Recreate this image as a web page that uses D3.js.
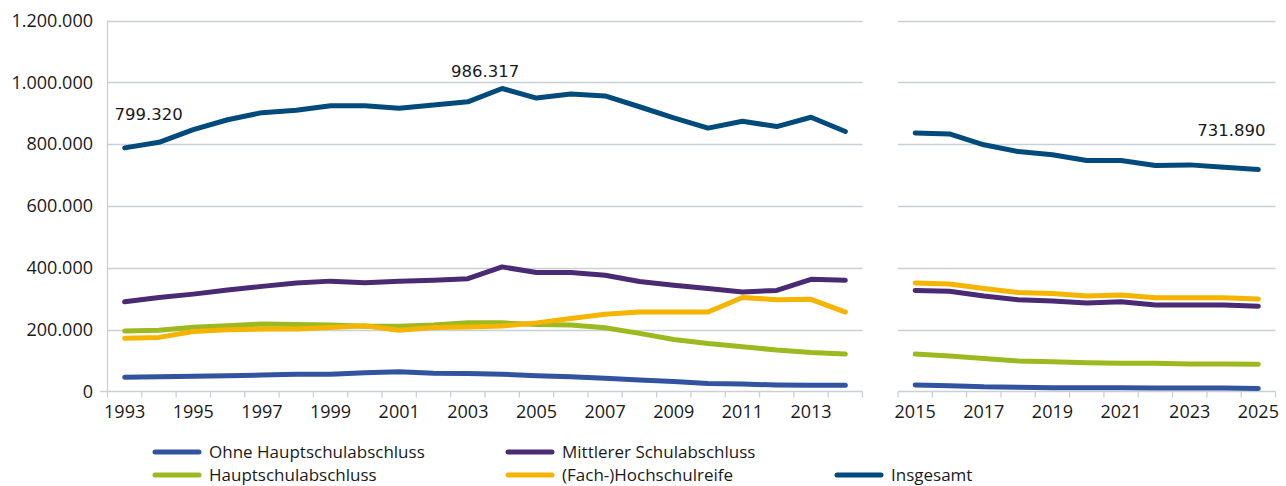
<!DOCTYPE html>
<html>
<head>
<meta charset="utf-8">
<script src="https://cdn.jsdelivr.net/npm/d3@7"></script>
<style>
  body { margin: 0; background: #fff; }
  svg { display: block; }
</style>
</head>
<body>
<svg id="chart" width="1286" height="486"></svg>
<script>
// years shown on the chart (gap between 2014 and 2015 splits the two panels)
const years = [1993, 1994, 1995, 1996, 1997, 1998, 1999, 2000, 2001, 2002, 2003,
    2004, 2005, 2006, 2007, 2008, 2009, 2010, 2011, 2012, 2013, 2014,
    2015, 2016, 2017, 2018, 2019, 2020, 2021, 2022, 2023, 2024, 2025];

// values
const ohneHS = [46000, 48000, 49000, 51000, 53000, 56000, 56000, 61000, 64000, 59000, 58000,
    56000, 51000, 48000, 43000, 37000, 32000, 26000, 24000, 21000, 20000, 20000,
    21000, 19000, 15000, 14000, 12000, 12000, 12000, 11000, 11000, 11000, 10000];
const hauptschul = [196000, 198000, 208000, 213000, 218000, 217000, 215000, 211000, 211000, 215000, 222000,
    222000, 217000, 215000, 206000, 188000, 168000, 155000, 145000, 134000, 126000, 121000,
    121000, 115000, 107000, 99000, 96000, 93000, 91000, 91000, 89000, 89000, 88000];
const mittlerer = [290000, 304000, 315000, 328000, 340000, 351000, 357000, 352000, 357000, 360000, 365000,
    403000, 385000, 385000, 376000, 356000, 344000, 333000, 322000, 327000, 363000, 360000,
    327000, 324000, 309000, 297000, 293000, 286000, 290000, 280000, 280000, 280000, 276000];
const hochschul = [172000, 175000, 194000, 200000, 202000, 202000, 207000, 213000, 198000, 207000, 209000,
    212000, 222000, 236000, 250000, 257000, 257000, 257000, 304000, 297000, 298000, 257000,
    351000, 348000, 333000, 320000, 317000, 309000, 312000, 303000, 303000, 303000, 299000];
const insgesamt = [788000, 806000, 847000, 879000, 902000, 910000, 924000, 924000, 916000, 927000, 937000,
    980000, 949000, 962000, 956000, 921000, 885000, 852000, 874000, 857000, 887000, 841000,
    836000, 833000, 798000, 776000, 766000, 747000, 747000, 731000, 733000, 725000, 718000];

const seriesNames = ["Ohne Hauptschulabschluss", "Hauptschulabschluss", "Mittlerer Schulabschluss",
    "(Fach-)Hochschulreife", "Insgesamt"];
const seriesColors = ["#3253a0", "#9cba1f", "#4a2a73", "#f4b400", "#004b7c"];
const yTicks = [0, 200000, 400000, 600000, 800000, 1000000, 1200000];

// annotated values
const annotations = [
    { year: 1993, text: "799.320" },
    { year: 2004, text: "986.317" },
    { year: 2025, text: "731.890" }
];

const svg = d3.select("#chart");
const gridColor = "#c8d0d8";
const tickFont = "'Open Sans', sans-serif";

const de = d3.formatLocale({ decimal: ",", thousands: ".", grouping: [3], currency: ["", " €"] });
const fmt = de.format(",d");

const leftYears = years.filter(y => y <= 2014);
const rightYears = years.filter(y => y >= 2015);

const y = d3.scaleLinear().domain([0, 1200000]).range([391.5, 20.5]);
const xLeft = d3.scaleBand().domain(leftYears).range([107.5, 862.5]).padding(0);
const xRight = d3.scaleBand().domain(rightYears).range([898, 1275.5]).padding(0);

const series = [ohneHS, hauptschul, mittlerer, hochschul, insgesamt].map((vals, i) => ({
    name: seriesNames[i],
    color: seriesColors[i],
    values: years.map((yr, j) => ({ year: yr, value: vals[j] }))
}));

// gridlines per panel
[xLeft, xRight].forEach(x => {
    const r = x.range();
    svg.append("g").selectAll("line")
        .data(yTicks.slice(1))
        .enter().append("line")
        .attr("x1", r[0]).attr("x2", r[1])
        .attr("y1", d => Math.round(y(d)) + 0.5).attr("y2", d => Math.round(y(d)) + 0.5)
        .attr("stroke", gridColor).attr("stroke-width", 1.3);
});

// y axis (left only)
svg.append("line")
    .attr("x1", 107.5).attr("x2", 107.5)
    .attr("y1", y(1200000)).attr("y2", y(0))
    .attr("stroke", gridColor).attr("stroke-width", 1.3);
svg.append("g").selectAll("text")
    .data(yTicks)
    .enter().append("text")
    .attr("x", 93)
    .attr("y", d => y(d))
    .attr("dy", "0.35em")
    .attr("text-anchor", "end")
    .attr("font-family", tickFont)
    .attr("font-size", 18)
    .attr("fill", "#1a1a1a")
    .text(d => fmt(d));
svg.append("line")
    .attr("x1", 100).attr("x2", 107.5)
    .attr("y1", y(0)).attr("y2", y(0))
    .attr("stroke", gridColor).attr("stroke-width", 1.3);

// x axes
[xLeft, xRight].forEach(x => {
    const g = svg.append("g");
    const r = x.range();
    g.append("line")
        .attr("x1", r[0]).attr("x2", r[1])
        .attr("y1", y(0)).attr("y2", y(0))
        .attr("stroke", gridColor).attr("stroke-width", 1.3);
    const bounds = x.domain().map(d => x(d)).concat([r[1]]);
    g.selectAll("line.tick")
        .data(bounds)
        .enter().append("line")
        .attr("class", "tick")
        .attr("x1", d => d).attr("x2", d => d)
        .attr("y1", y(0)).attr("y2", y(0) + 6)
        .attr("stroke", gridColor).attr("stroke-width", 1.3);
    g.selectAll("text")
        .data(x.domain().filter(d => d % 2 === 1))
        .enter().append("text")
        .attr("x", d => x(d) + x.bandwidth() / 2)
        .attr("y", 418)
        .attr("text-anchor", "middle")
        .attr("font-family", tickFont)
        .attr("font-size", 18)
        .attr("fill", "#1a1a1a")
        .text(d => d);
});

// lines
const lineFor = x => d3.line()
    .x(d => x(d.year) + x.bandwidth() / 2)
    .y(d => y(d.value));

series.forEach(s => {
    [[xLeft, leftYears], [xRight, rightYears]].forEach(([x, yrs]) => {
        svg.append("path")
            .datum(s.values.filter(v => yrs.includes(v.year)))
            .attr("fill", "none")
            .attr("stroke", s.color)
            .attr("stroke-width", 5)
            .attr("stroke-linejoin", "round")
            .attr("stroke-linecap", "round")
            .attr("d", lineFor(x));
    });
});

// annotations
const annoPos = {
    1993: { dx: 24, dy: -28, anchor: "middle" },
    2004: { dx: -17, dy: -12, anchor: "middle" },
    2025: { dx: -27, dy: -34, anchor: "middle" }
};
svg.append("g").selectAll("text")
    .data(annotations)
    .enter().append("text")
    .attr("x", d => {
        const x = d.year <= 2014 ? xLeft : xRight;
        return x(d.year) + x.bandwidth() / 2 + annoPos[d.year].dx;
    })
    .attr("y", d => y(insgesamt[years.indexOf(d.year)]) + annoPos[d.year].dy)
    .attr("text-anchor", d => annoPos[d.year].anchor)
    .attr("font-family", "'DejaVu Sans', sans-serif")
    .attr("font-size", 16.5)
    .attr("fill", "#1a1a1a")
    .text(d => d.text);

// legend
const legendOrder = [0, 2, 1, 3, 4];
const legendPos = [
    { x: 155, y: 452 }, { x: 508, y: 452 },
    { x: 155, y: 475 }, { x: 508, y: 475 }, { x: 837, y: 475 }
];
const legend = svg.append("g").selectAll("g")
    .data(legendOrder)
    .enter().append("g")
    .attr("transform", (d, i) => `translate(${legendPos[i].x},${legendPos[i].y})`);
legend.append("line")
    .attr("x1", 0).attr("x2", 44)
    .attr("stroke", d => seriesColors[d])
    .attr("stroke-width", 5)
    .attr("stroke-linecap", "round");
legend.append("text")
    .attr("x", 54)
    .attr("dy", "0.35em")
    .attr("font-family", tickFont)
    .attr("font-size", 17)
    .attr("fill", "#1a1a1a")
    .text(d => seriesNames[d]);
</script>
</body>
</html>
